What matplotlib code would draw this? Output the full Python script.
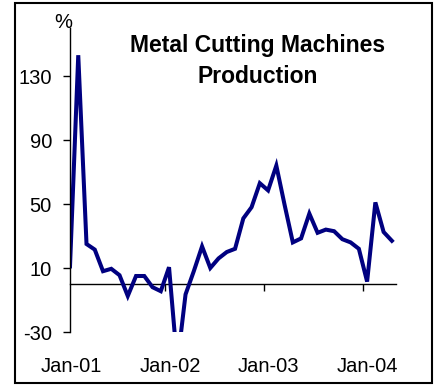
import matplotlib
matplotlib.use("Agg")
import matplotlib.pyplot as plt
from matplotlib.patches import Rectangle

plt.rcParams['font.family'] = ['Liberation Sans', 'DejaVu Sans']
plt.rcParams['axes.unicode_minus'] = False

# monthly % change, Jan-01 .. Apr-04
values = [11, 143, 25, 21.5, 8, 9.5, 5.5, -7.5, 5, 5,
          -2, -4.5, 10.5, -50, -6.5, 8, 23.5, 10, 16, 20,
          22, 41, 48, 63, 58.5, 74, 49.5, 26, 28.5, 44,
          32, 34, 33, 28, 26, 22, 1.5, 51, 32.5, 27]
months = list(range(len(values)))
year_labels = ['Jan-01', 'Jan-02', 'Jan-03', 'Jan-04']
label_pos = [0.2, 12.2, 24, 36]
year_marks = [11.5, 23.5, 35.5]
yticks = [-30, 10, 50, 90, 130]

fig = plt.figure(figsize=(4.34, 3.87), dpi=100)
ax = fig.add_axes([70/434, 1-332/387, 326/434, 304/387])

ax.plot(months, values, color='#000080', lw=2.9, solid_joinstyle='miter')

ax.set_xlim(0, 39.5)
ax.set_ylim(-30, 160)

ax.set_yticks(yticks)
ax.tick_params(axis='y', direction='out', length=5, width=1, labelsize=14.5, pad=8)
ax.set_xticks(label_pos)
ax.set_xticklabels(year_labels)
ax.tick_params(axis='x', length=0, labelsize=14.5, pad=18)

for s in ['top', 'right', 'bottom']:
    ax.spines[s].set_visible(False)
ax.spines['left'].set_linewidth(1)

# zero line with year marks
sec = ax.secondary_xaxis(0, transform=ax.transData)
sec.set_xticks(year_marks)
sec.set_xticklabels([])
sec.tick_params(direction='out', length=5, width=1)
sec.spines['bottom'].set_linewidth(1)

fig.text(63/434, 1-22/387, '%', fontsize=14.5, ha='center', va='center')
fig.text(258/434, 1-61/387, 'Metal Cutting Machines\nProduction',
         fontsize=16.5, fontweight='bold', ha='center', va='center',
         linespacing=1.45)

fig.patches.append(Rectangle((15/434, 4/387), 417/434, 380/387,
                             transform=fig.transFigure, fill=False,
                             edgecolor='black', lw=1.5))

fig.savefig('out.png', dpi=100)
